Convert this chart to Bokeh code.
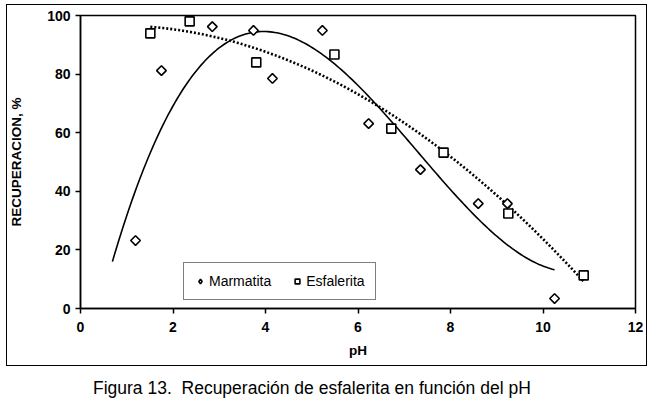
import numpy as np
from bokeh.plotting import figure
from bokeh.layouts import column
from bokeh.models import Div, Legend, LegendItem, FixedTicker, Range1d
from bokeh.embed import file_html
from bokeh.resources import INLINE

# Data
marm_ph = [1.19, 1.75, 2.85, 3.74, 4.15, 5.23, 6.23, 7.35, 8.60, 9.23, 10.25]
marm_rec = [23.2, 81.2, 96.2, 94.9, 78.5, 94.9, 63.1, 47.4, 35.8, 35.8, 3.4]
esf_ph = [1.51, 2.36, 3.80, 5.49, 6.72, 7.85, 9.25, 10.88]
esf_rec = [93.9, 98.0, 84.0, 86.7, 61.4, 53.2, 32.4, 11.3]
x_ticks = [0, 2, 4, 6, 8, 10, 12]
y_ticks = [0, 20, 40, 60, 80, 100]

# Polynomial trendlines (as in the original spreadsheet)
mc = np.polyfit(marm_ph, marm_rec, 3)
mx = np.linspace(min(marm_ph) - 0.5, max(marm_ph), 200)
my = np.polyval(mc, mx)
ec = np.polyfit(esf_ph, esf_rec, 2)
ex = np.linspace(min(esf_ph), max(esf_ph), 200)
ey = np.polyval(ec, ex)

FONT = "Liberation Sans"

p = figure(width=650, height=368, output_backend="svg", toolbar_location=None,
           x_range=Range1d(0, 12), y_range=Range1d(0, 100),
           min_border_left=80, min_border_right=15, min_border_top=15, min_border_bottom=60)
p.xgrid.visible = False
p.ygrid.visible = False
p.outline_line_color = "black"
p.outline_line_width = 1.5
p.background_fill_color = "white"
p.border_fill_color = "white"

for ax in (p.xaxis[0], p.yaxis[0]):
    ax.axis_line_width = 1.5
    ax.major_tick_line_width = 1.5
    ax.major_tick_in = 0
    ax.major_tick_out = 5
    ax.minor_tick_out = 0
    ax.minor_tick_in = 0
    ax.major_label_text_font = FONT
    ax.major_label_text_font_style = "bold"
    ax.major_label_text_font_size = "14px"
    ax.major_label_text_color = "black"
    ax.axis_label_text_font = FONT
    ax.axis_label_text_font_style = "bold"
    ax.axis_label_text_font_size = "13.5px"
    ax.axis_label_text_color = "black"

p.xaxis.ticker = FixedTicker(ticks=x_ticks)
p.yaxis.ticker = FixedTicker(ticks=y_ticks)
p.xaxis.axis_label = "pH"
p.yaxis.axis_label = "RECUPERACION, %"
p.xaxis.major_label_standoff = 8
p.xaxis.axis_label_standoff = 8
p.yaxis.major_label_standoff = 5
p.yaxis.axis_label_standoff = 20

p.line(mx, my, line_color="black", line_width=1.6)
p.line(ex, ey, line_color="black", line_width=2.6, line_dash="2 2")

r1 = p.scatter(marm_ph, marm_rec, marker="square", angle=np.pi / 4, size=6.8,
               fill_color="white", line_color="black", line_width=1.6)
r2 = p.scatter(esf_ph, esf_rec, marker="square", size=9, fill_color="white",
               line_color="black", line_width=1.6)
# legend-only glyph for the diamond symbol (legends do not rotate markers)
r1_leg = p.scatter([np.nan], [np.nan], marker="diamond", size=10, fill_color="white",
                   line_color="black", line_width=1.6)

legend = Legend(items=[LegendItem(label="Marmatita", renderers=[r1_leg]),
                       LegendItem(label="Esfalerita", renderers=[r2])],
                orientation="horizontal", location=(103, 8))
legend.label_text_font = FONT
legend.label_text_font_size = "14px"
legend.label_text_color = "black"
legend.border_line_color = "black"
legend.border_line_width = 1.5
legend.glyph_width = 12
legend.glyph_height = 12
legend.label_height = 12
legend.label_standoff = 3
legend.spacing = 20
legend.padding = 10
legend.margin = 0
p.add_layout(legend)

# outer frame drawn as an empty bordered box laid over the chart
frame_box = Div(text="", width=641, height=362, margin=(-364, 0, 0, 6),
                styles={"border": "1.5px solid black", "box-sizing": "border-box",
                        "pointer-events": "none", "background": "transparent",
                        "position": "relative", "z-index": "50"})

cap = Div(text="Figura 13.&nbsp; Recuperación de esfalerita en función del pH",
          width=640, height=38,
          styles={"font-family": FONT, "font-size": "17.5px", "color": "black",
                  "text-align": "left", "padding-left": "88px", "padding-top": "5px"})

layout = column(p, frame_box, cap, spacing=0)
open("out.html", "w").write(file_html(layout, INLINE))
